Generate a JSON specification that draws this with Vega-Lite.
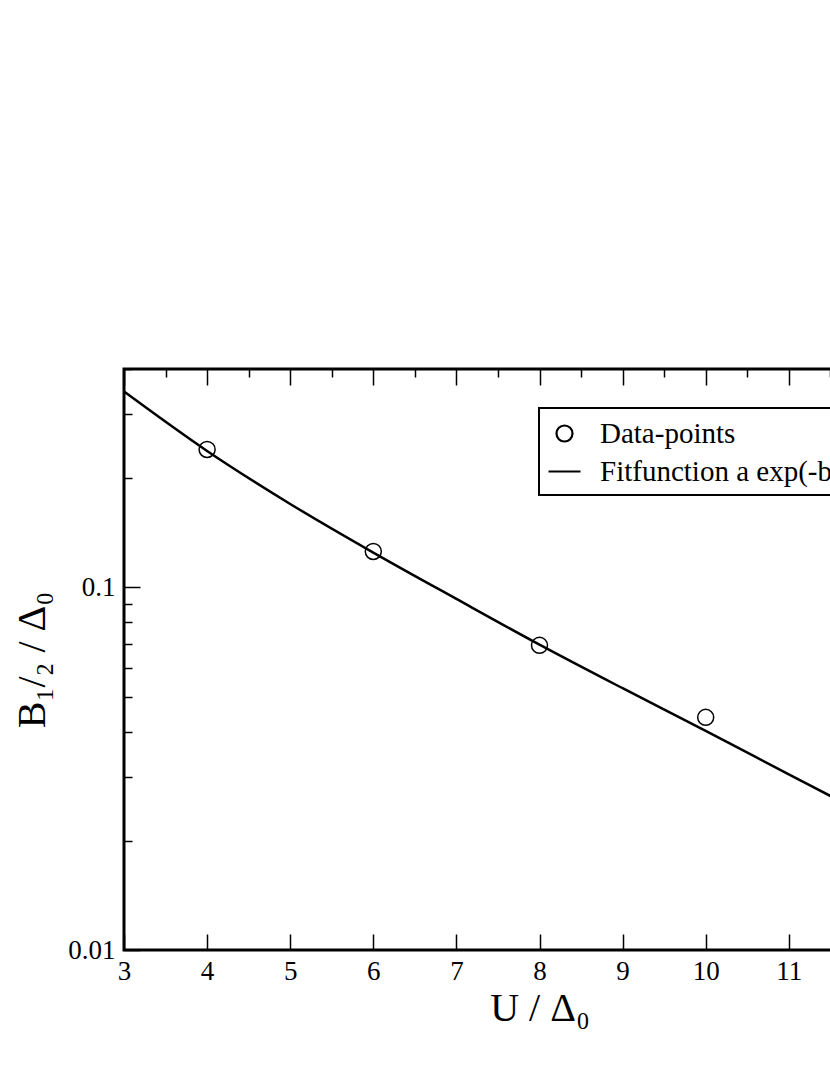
{
  "$schema": "https://vega.github.io/schema/vega-lite/v6.json",
  "width": 831,
  "height": 581,
  "autosize": {"type": "none"},
  "padding": {"left": 124, "top": 369, "right": -125, "bottom": 125},
  "background": "white",
  "config": {
    "view": {"stroke": "black", "strokeWidth": 3},
    "font": "Liberation Serif",
    "style": {"guide-label": {"font": "Liberation Serif", "fontSize": 27, "fill": "black"}},
    "axis": {"labelFont": "Liberation Serif", "labelFontSize": 27, "labelColor": "black", "titleFont": "Liberation Serif"},
    "legend": {
      "orient": "none", "legendX": 415, "legendY": 39,
      "strokeColor": "black", "strokeWidth": 2, "fillColor": "white", "padding": 8,
      "symbolSize": 1024, "symbolStrokeWidth": 2.2, "symbolStrokeColor": "black", "symbolFillColor": "transparent",
      "labelFont": "Liberation Serif", "labelFontSize": 29, "labelColor": "black", "labelOffset": 18, "rowPadding": 5,
      "labelLimit": 1000
    }
  },
  "datasets": {
    "fit": [
      {"U": 3, "B": 0.3467},
      {"U": 4, "B": 0.2377},
      {"U": 5, "B": 0.1698},
      {"U": 6, "B": 0.1247},
      {"U": 7, "B": 0.0929},
      {"U": 8, "B": 0.0695},
      {"U": 9, "B": 0.0527},
      {"U": 10, "B": 0.0402},
      {"U": 11, "B": 0.0305},
      {"U": 12, "B": 0.0232},
      {"U": 13, "B": 0.0178}
    ],
    "points": [
      {"U": 4, "B": 0.240, "series": "Data-points"},
      {"U": 6, "B": 0.1256, "series": "Data-points"},
      {"U": 8, "B": 0.0692, "series": "Data-points"},
      {"U": 10, "B": 0.0438, "series": "Data-points"}
    ]
  },
  "layer": [
    {
      "data": {"name": "fit"},
      "mark": {"type": "line", "color": "black", "strokeWidth": 2.5, "clip": true, "interpolate": "monotone"},
      "encoding": {
        "x": {
          "field": "U", "type": "quantitative",
          "scale": {"domain": [3, 13], "nice": false, "zero": false},
          "axis": {
            "orient": "bottom",
            "values": [3, 3.5, 4, 4.5, 5, 5.5, 6, 6.5, 7, 7.5, 8, 8.5, 9, 9.5, 10, 10.5, 11, 11.5, 12, 12.5, 13],
            "format": "d",
            "labelExpr": "datum.value % 1 == 0 ? format(datum.value, 'd') : ''",
            "tickSize": {"condition": {"test": "datum.value % 1 == 0", "value": -16}, "value": -8},
            "tickWidth": 1.5, "tickColor": "black", "domain": false, "grid": false,
            "labelFont": "Liberation Serif", "labelFontSize": 27, "labelColor": "black",
            "labelPadding": 24, "labelFlush": false, "labelOverlap": false,
            "title": "U / Δ₀", "titleFont": "Liberation Serif", "titleFontSize": 40,
            "titleFontWeight": "normal", "titleColor": "black", "titlePadding": 4
          }
        },
        "y": {
          "field": "B", "type": "quantitative",
          "scale": {"type": "log", "domain": [0.01, 0.4], "nice": false},
          "axis": {
            "orient": "left",
            "values": [0.01, 0.02, 0.03, 0.04, 0.05, 0.06, 0.07, 0.08, 0.09, 0.1, 0.2, 0.3, 0.4],
            "labelExpr": "datum.value == 0.01 ? '0.01' : (datum.value == 0.1 ? '0.1' : '')",
            "tickSize": {"condition": {"test": "datum.value == 0.01 || datum.value == 0.1", "value": -16}, "value": -8},
            "tickWidth": 1.5, "tickColor": "black", "domain": false, "grid": false,
            "labelFont": "Liberation Serif", "labelFontSize": 27, "labelColor": "black",
            "labelPadding": 25, "labelFlush": false, "labelOverlap": false,
            "title": "B₁/₂ / Δ₀", "titleFont": "Liberation Serif", "titleFontSize": 40,
            "titleFontWeight": "normal", "titleColor": "black", "titlePadding": 15
          }
        }
      }
    },
    {
      "data": {"name": "points"},
      "mark": {"type": "point", "filled": false, "color": "black", "strokeWidth": 1.5, "size": 1024, "opacity": 1},
      "encoding": {
        "x": {
          "field": "U", "type": "quantitative",
          "axis": {
            "orient": "top",
            "values": [3, 3.5, 4, 4.5, 5, 5.5, 6, 6.5, 7, 7.5, 8, 8.5, 9, 9.5, 10, 10.5, 11, 11.5, 12, 12.5, 13],
            "labels": false, "title": null, "domain": false, "grid": false,
            "tickSize": {"condition": {"test": "datum.value % 1 == 0", "value": -16}, "value": -8},
            "tickWidth": 1.5, "tickColor": "black"
          }
        },
        "y": {
          "field": "B", "type": "quantitative",
          "axis": {
            "orient": "right",
            "values": [0.01, 0.02, 0.03, 0.04, 0.05, 0.06, 0.07, 0.08, 0.09, 0.1, 0.2, 0.3, 0.4],
            "labels": false, "title": null, "domain": false, "grid": false,
            "tickSize": {"condition": {"test": "datum.value == 0.01 || datum.value == 0.1", "value": -16}, "value": -8},
            "tickWidth": 1.5, "tickColor": "black"
          }
        },
        "shape": {
          "field": "series", "type": "nominal",
          "scale": {
            "domain": ["Data-points", "Fitfunction a exp(-b U)"],
            "range": ["M -0.5 0 A 0.5 0.5 0 1 1 0.5 0 A 0.5 0.5 0 1 1 -0.5 0 Z", "stroke"]
          },
          "legend": {"title": null}
        }
      }
    }
  ]
}
